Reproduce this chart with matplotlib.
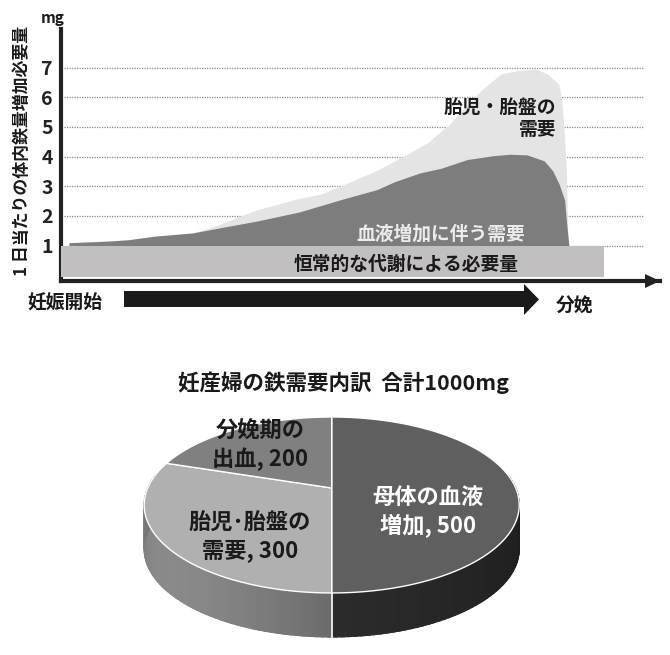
import numpy as np
from matplotlib import pyplot as plt

plt.rcParams['font.family'] = ['Noto Sans CJK JP', 'DejaVu Sans']

# grafico de arriba: semanas de embarazo y mg por dia
ticks = [1, 2, 3, 4, 5, 6, 7]

sem_sangre = [0, 3.06, 4.77, 6.83, 9.92, 12.33, 15.07, 18.5, 21.94, 24.69, 26.06, 28.12,
              29.84, 31.9, 33.96, 35.33, 36.7, 38.08, 38.76, 39.28, 39.73, 39.86, 40.07]
mg_sangre = [1.10, 1.15, 1.20, 1.32, 1.43, 1.62, 1.83, 2.14, 2.57, 2.89, 3.15, 3.45,
             3.61, 3.90, 4.03, 4.08, 4.06, 3.86, 3.53, 3.08, 2.53, 1.86, 1.0]

sem_feto = [0, 4.77, 9.92, 11.64, 15.07, 18.5, 20.2, 21.94, 24.69, 27.1, 28.8, 30.5,
            32.2, 33.27, 34.64, 36.0, 37.4, 38.4, 39.28, 39.5, 39.7, 39.86, 40.0]
mg_feto = [1.10, 1.20, 1.43, 1.65, 2.21, 2.60, 2.74, 3.04, 3.54, 4.08, 4.49, 5.10,
           5.88, 6.32, 6.79, 6.90, 6.96, 6.77, 6.43, 5.88, 4.76, 3.65, 1.0]

fin_basal = 42.9

# grafico de abajo
partes = [500, 300, 200]
nombres = ['母体の血液\n増加, 500', '胎児･胎盤の\n需要, 300', '分娩期の\n出血, 200']
colores = ['#5f5f5f', '#b0b0b0', '#808080']

W, H = 670, 655
fig = plt.figure(figsize=(W / 100, H / 100), dpi=100)
fig.patch.set_facecolor('white')

ax = fig.add_axes([61 / W, 1 - 281 / H, 599 / W, 252 / H])
ax.set_xlim(-0.64, 47.37)
ax.set_ylim(-0.19, 8.30)
ax.patch.set_alpha(0)

ax.hlines(ticks, -0.4, 46.0, colors='#8c8c8c', linestyles=(0, (1, 1)), lw=0.9, zorder=1)
ax.fill_between(sem_feto, 1, mg_feto, color='#e4e4e4', lw=0, zorder=2)
ax.fill_between(sem_sangre, 1, mg_sangre, color='#7d7d7d', lw=0, zorder=3)
ax.barh(0.47, fin_basal + 0.64, height=1.06, left=-0.64, color='#c1bfbf', zorder=4)

for s in ['top', 'right']:
    ax.spines[s].set_visible(False)
for s in ['left', 'bottom']:
    ax.spines[s].set_linewidth(3)
    ax.spines[s].set_color('#222222')
ax.set_xticks([])
ax.set_yticks(ticks)
ax.set_yticklabels(ticks, fontsize=14, fontweight='bold', color='#222222')
ax.tick_params(axis='y', length=0, pad=6)

# capa en pixeles para textos, flechas y la torta
ov = fig.add_axes([0, 0, 1, 1])
ov.set_xlim(0, W)
ov.set_ylim(H, 0)
ov.axis('off')
ov.patch.set_alpha(0)


def t(x, y, s, size=13.5, color='#1a1a1a', weight='bold', **kw):
    kw.setdefault('ha', 'center')
    ov.text(x, y, s, fontsize=size, color=color, fontweight=weight, va='center', **kw)


ov.fill([645, 660, 645], [274, 281, 288], color='#222222', lw=0)
ov.fill([124, 524, 524, 539, 524, 524, 124], [291, 291, 284, 299.5, 315, 307, 307],
        color='#1a1a1a', lw=0)

t(53, 18, 'mg', size=11)
t(22, 151, '1 日当たりの体内鉄量増加必要量', size=12.2, rotation=90)
t(556, 107, '胎児・胎盤の', ha='right')
t(556, 129, '需要', ha='right')
t(441, 234, '血液増加に伴う需要', color='#ececec')
t(406, 264, '恒常的な代謝による必要量')
t(65, 303, '妊娠開始')
t(575, 305, '分娩')
t(343, 383, '妊産婦の鉄需要内訳  合計1000mg', size=15.5)

# torta 3D con perspectiva: el circulo unidad se proyecta a la pantalla
cx, cy, rx, ry, persp, alto = 331.7, 488, 184, 84.7, 0.193, 44


def proy(ang):
    X, Y = np.sin(ang), np.cos(ang)
    w = 1 + persp * Y
    return cx + rx * X / w, cy - ry * Y / w


fracc = np.cumsum([0] + partes) / sum(partes)
angs = 2 * np.pi * fracc

# costado: tiras con el color degradado, cada una pisa a la anterior para que no queden rayas
tiras = np.linspace(np.pi * 0.45, np.pi * 1.55, 121)
for a0, a1 in zip(tiras[:-1], tiras[1:]):
    xs0, ys0 = proy(np.linspace(a0, a1 + 0.02, 3))
    m = (a0 + a1) / 2
    if m < np.pi:
        g = 0.11 + 0.06 * max(m - np.pi / 2, 0) / (np.pi / 2)
    else:
        g = 0.42 + 0.12 * np.sin(min((m - np.pi) / (np.pi / 2), 1) * np.pi * 0.9)
    col = str(round(g, 3))
    ov.fill(np.r_[xs0, xs0[::-1]], np.r_[ys0, ys0[::-1] + alto], facecolor=col, edgecolor=col,
            lw=0.8, zorder=5)
xb, yb = proy(np.pi)
ov.plot([xb, xb], [yb, yb + alto], color='white', lw=1.2, zorder=6)

# cara de arriba
for i in range(len(partes)):
    xs, ys = proy(np.linspace(angs[i], angs[i + 1], 120))
    ov.fill(np.r_[cx, xs], np.r_[cy, ys], facecolor=colores[i], edgecolor='white', lw=1,
            joinstyle='round', zorder=7)

t(428, 512, nombres[0], size=16, color='white', zorder=8, linespacing=1.25)
t(250, 537, nombres[1], size=16, zorder=8, linespacing=1.25)
t(260, 445, nombres[2], size=16, zorder=8, linespacing=1.25)

plt.savefig('out.png', dpi=100)
